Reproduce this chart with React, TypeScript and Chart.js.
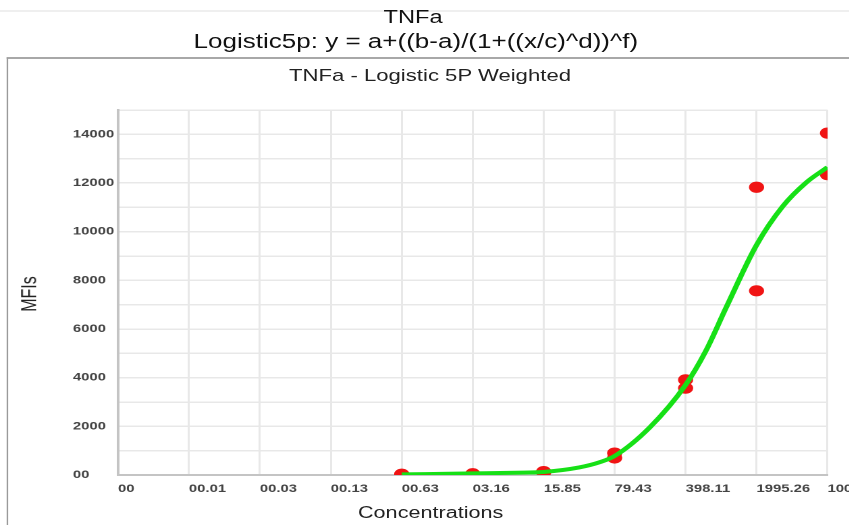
import React, { useEffect, useRef } from 'react';
import { Chart, registerables } from 'chart.js';

Chart.register(...registerables);

// Measured standards (concentration, MFI)
const pointConcentrations = [0.631, 0.631, 3.162, 3.162, 15.85, 15.85, 79.43, 79.43, 398.11, 398.11, 1995.26, 1995.26, 10000, 10000];
const pointMfis = [30, 20, 50, 40, 140, 110, 900, 700, 3910, 3570, 11825, 7570, 14050, 12345];

// Fitted 5PL curve, sampled along the concentration range
const curveConcentrations = [0.631, 3.162, 10, 15.85, 35.5, 56.2, 79.43, 176, 398.11, 631, 1000, 1995.26, 3631, 6166, 10000];
const curveMfis = [25, 65, 100, 125, 310, 520, 780, 1950, 3700, 5100, 6880, 9450, 11050, 12020, 12650];

// Concentration axis ticks (log spaced)
const xTickValues = [0.001, 0.0050119, 0.025119, 0.125893, 0.630957, 3.162278, 15.848932, 79.432823, 398.107171, 1995.262315, 10000];
const xTickLabels = ['00', '00.01', '00.03', '00.13', '00.63', '03.16', '15.85', '79.43', '398.11', '1995.26', '10000'];

const chartTitle = 'TNFa';
const chartSubtitle = 'Logistic5p: y = a+((b-a)/(1+((x/c)^d))^f)';
const plotTitle = 'TNFa - Logistic 5P Weighted';
const xAxisTitle = 'Concentrations';
const yAxisTitle = 'MFIs';

// The report renders horizontally widened
const STRETCH = 1.35;
const FONT = '"Liberation Sans", Arial, Helvetica, sans-serif';

export default function App() {
  const canvasRef = useRef<HTMLCanvasElement>(null);

  useEffect(() => {
    const points = pointConcentrations.map((x, i) => ({ x, y: pointMfis[i] }));
    const curve = curveConcentrations.map((x, i) => ({ x, y: curveMfis[i] }));
    const tickFont = { family: FONT, size: 11, weight: 'bold' as const };

    const chart = new Chart(canvasRef.current!, {
      type: 'scatter',
      data: {
        datasets: [
          {
            type: 'line',
            data: curve,
            borderColor: '#16e016',
            borderWidth: 4,
            pointRadius: 0,
            pointHoverRadius: 0,
            cubicInterpolationMode: 'monotone',
            fill: false,
            clip: 0,
            order: 0,
          } as any,
          {
            type: 'scatter',
            data: points,
            pointRadius: 5.6,
            pointHoverRadius: 5.6,
            backgroundColor: '#f01414',
            borderWidth: 0,
            clip: 0,
            order: 1,
          } as any,
        ],
      },
      options: {
        animation: false,
        responsive: true,
        maintainAspectRatio: false,
        devicePixelRatio: 2,
        events: [],
        layout: { padding: { left: 47.05, right: 21.05, top: 51, bottom: 22 } },
        plugins: {
          legend: { display: false },
          tooltip: { enabled: false },
          title: { display: false },
        },
        scales: {
          x: {
            type: 'logarithmic',
            position: 'bottom',
            min: 0.001,
            max: 10000,
            afterBuildTicks: (scale: any) => {
              scale.ticks = xTickValues.map((v) => ({ value: v }));
            },
            afterFit: (scale: any) => {
              scale.paddingLeft = 0;
              scale.paddingRight = 0;
            },
            ticks: {
              align: 'start',
              autoSkip: false,
              maxRotation: 0,
              minRotation: 0,
              padding: 7.4,
              color: '#444',
              font: tickFont,
              callback: (_v: any, i: number) => xTickLabels[i],
            },
            grid: { color: '#e8e8e8', lineWidth: 1.5, drawTicks: false },
            border: { color: '#c4c4c4', width: 2 },
          } as any,
          y: {
            type: 'linear',
            min: 0,
            max: 15000,
            afterFit: (scale: any) => {
              scale.width = 33.3;
            },
            ticks: {
              stepSize: 1000,
              crossAlign: 'far',
              padding: 3,
              color: '#444',
              font: tickFont,
              callback: (v: any) => (v % 2000 === 0 ? (v === 0 ? '00' : String(v)) : ''),
            },
            grid: { color: '#e8e8e8', lineWidth: 1.5, drawTicks: false },
            border: { color: '#c4c4c4', width: 2 },
          } as any,
        },
      },
    });
    return () => chart.destroy();
  }, []);

  const textBase: React.CSSProperties = {
    position: 'absolute',
    whiteSpace: 'nowrap',
    textAlign: 'center',
    color: '#111',
  };

  return (
    <div style={{ position: 'fixed', left: 0, top: 0, width: '100vw', height: '100vh', overflow: 'hidden', background: '#fff' }}>
      <div
        style={{
          position: 'absolute',
          left: 0,
          top: 0,
          width: 849 / STRETCH,
          height: 525,
          transform: `scaleX(${STRETCH})`,
          transformOrigin: '0 0',
          fontFamily: FONT,
        }}
      >
        <div style={{ position: 'absolute', left: 0, right: 0, top: 10, height: 2, background: '#efefef' }} />
        <div style={{ ...textBase, left: 306 - 150, width: 300, top: 7, fontSize: 17.5, lineHeight: '20px' }}>{chartTitle}</div>
        <div style={{ ...textBase, left: 308 - 250, width: 500, top: 32, fontSize: 19.3, lineHeight: '20px' }}>{chartSubtitle}</div>
        <div
          style={{
            position: 'absolute',
            left: 5.2,
            top: 57,
            width: 700,
            height: 500,
            borderLeft: '1.5px solid #9a9a9a',
            borderTop: '2px solid #a8a8a8',
          }}
        />
        <div style={{ position: 'absolute', left: 6.7, top: 59, width: 627, height: 466 }}>
          <canvas ref={canvasRef} />
        </div>
        <div style={{ ...textBase, left: 318.5 - 150, width: 300, top: 65, fontSize: 16.4, lineHeight: '20px', color: '#222' }}>{plotTitle}</div>
        <div style={{ ...textBase, left: 319 - 100, width: 200, top: 503, fontSize: 16, lineHeight: '20px', color: '#222' }}>{xAxisTitle}</div>
        <div
          style={{
            ...textBase,
            left: 22.2 - 40,
            width: 80,
            top: 294 - 10,
            fontSize: 16,
            lineHeight: '20px',
            color: '#222',
            transform: 'rotate(-90deg)',
          }}
        >
          {yAxisTitle}
        </div>
      </div>
    </div>
  );
}
